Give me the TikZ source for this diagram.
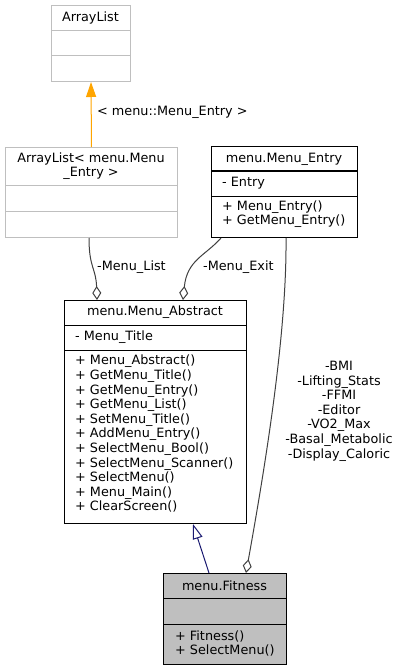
\documentclass[tikz,border=0pt]{standalone}
\usepackage{fontspec}
\setmainfont{DejaVu Sans}
\usetikzlibrary{arrows.meta,calc}
\definecolor{boxgray}{HTML}{BFBFBF}
\definecolor{edgegray}{HTML}{404040}
\definecolor{inhblue}{HTML}{191970}
\definecolor{tmplorange}{HTML}{FFA500}
\begin{document}
\begin{tikzpicture}[x=1pt,y=-1pt,
  cls/.style={draw=black, line width=1pt, anchor=north west, inner sep=0pt},
  clsg/.style={draw=boxgray, line width=1pt, anchor=north west, inner sep=0pt},
  txt/.style={inner sep=0pt, font=\fontsize{12.8}{14.6}\selectfont},
  mem/.style={txt, anchor=west},
  rel/.style={draw=edgegray, line width=1pt},
  agg/.style={rel, -{Diamond[open, fill=white, length=14pt, width=9pt]}},
  lbl/.style={txt}
]
\useasboundingbox (0,0) rectangle (401,671);

% ArrayList
\node[clsg, minimum width=79pt, minimum height=76pt] (al) at (51,5) {};
\draw[boxgray, line width=1pt] (51,31) -- (130,31) (51,56) -- (130,56);
\node[txt] at (90.5,18) {ArrayList};

% ArrayList< menu.Menu_Entry >
\node[clsg, minimum width=172pt, minimum height=90pt] (alm) at (5,147) {};
\draw[boxgray, line width=1pt] (5,185) -- (177,185) (5,211) -- (177,211);
\node[txt, align=center] at (91,166) {ArrayList< menu.Menu\\\_Entry >};

% menu.Menu_Entry
\node[cls, minimum width=146pt, minimum height=91pt] (me) at (211,146) {};
\draw[black, line width=1pt] (211,171) -- (357,171) (211,196) -- (357,196);
\node[txt] at (284,159) {menu.Menu\_Entry};
\node[mem] at (222,183) {- Entry};
\node[mem] at (222,207) {+ Menu\_Entry()};
\node[mem] at (222,221.5) {+ GetMenu\_Entry()};

% menu.Menu_Abstract
\node[cls, minimum width=182pt, minimum height=223pt] (ma) at (64,300) {};
\draw[black, line width=1pt] (64,325) -- (246,325) (64,350) -- (246,350);
\node[txt] at (155,312.5) {menu.Menu\_Abstract};
\node[mem] at (75,337) {- Menu\_Title};
\node[txt, anchor=north west, align=left] at (75,355) {+ Menu\_Abstract()\\+ GetMenu\_Title()\\+ GetMenu\_Entry()\\+ GetMenu\_List()\\+ SetMenu\_Title()\\+ AddMenu\_Entry()\\+ SelectMenu\_Bool()\\+ SelectMenu\_Scanner()\\+ SelectMenu()\\+ Menu\_Main()\\+ ClearScreen()};

% menu.Fitness
\node[cls, fill=boxgray, minimum width=123pt, minimum height=91pt] (fi) at (163,573) {};
\draw[black, line width=1pt] (163,598) -- (286,598) (163,624) -- (286,624);
\node[txt] at (224.5,585.5) {menu.Fitness};
\node[mem] at (175,636) {+ Fitness()};
\node[mem] at (175,650.5) {+ SelectMenu()};

% template instantiation
\draw[tmplorange, line width=1pt, -{Triangle[length=15pt, width=10pt]}] (alm.north) -- (al.south);
\node[lbl, anchor=west] at (97,112) {< menu::Menu\_Entry >};

% Menu_List
\coordinate (mlS) at ($(alm.south west)+(84,0)$);
\coordinate (mlE) at ($(ma.north west)+(33,0)$);
\draw[agg] (mlS) .. controls ($(mlS)+(0,30)$) and ($(mlE)+(-1,-32)$) .. (mlE);
\node[lbl, anchor=west] at (97,267) {-Menu\_List};

% Menu_Exit
\coordinate (mxS) at ($(me.south west)+(10,0)$);
\coordinate (mxE) at ($(ma.north west)+(119,0)$);
\draw[agg] (mxS) .. controls ($(mxS)+(-16,18)$) and ($(mxE)+(4,-40)$) .. (mxE);
\node[lbl, anchor=west] at (203,267) {-Menu\_Exit};

% Fitness composition
\coordinate (fcS) at ($(me.south west)+(75,0)$);
\coordinate (fcE) at ($(fi.north west)+(83,0)$);
\draw[agg] (fcS) .. controls ($(fcS)+(1,100)$) and ($(fcE)+(17,-95)$) .. (fcE);
\node[lbl, align=center, anchor=north] at (339,361) {-BMI\\-Lifting\_Stats\\-FFMI\\-Editor\\-VO2\_Max\\-Basal\_Metabolic\\-Display\_Caloric};

% inheritance
\coordinate (inS) at ($(fi.north west)+(46,0)$);
\coordinate (inE) at ($(ma.south west)+(129,0)$);
\draw[inhblue, line width=1pt, -{Triangle[open, fill=white, length=15pt, width=10pt]}] (inS) -- (inE);
\end{tikzpicture}
\end{document}
